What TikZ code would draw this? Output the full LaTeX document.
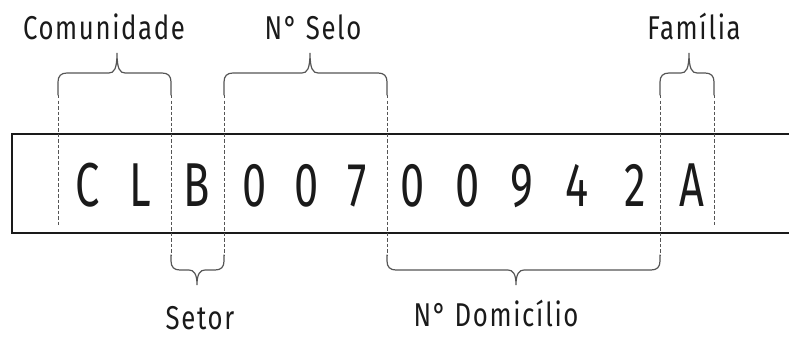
\documentclass[tikz,border=0pt]{standalone}
\usepackage{fontspec}
\setmainfont{Fira Sans}
\newfontfamily\codefont{Fira Sans}[FakeStretch=0.7]
\newfontfamily\labelfont{Fira Sans}[FakeStretch=0.78,LetterSpace=5]

\definecolor{ink}{HTML}{1A1A1A}
\definecolor{guide}{HTML}{555555}

\tikzset{
  codechar/.style={anchor=base,inner sep=0pt,text=ink,font=\codefont\fontsize{62}{62}\selectfont},
  partlabel/.style={anchor=base,inner sep=0pt,text=ink,font=\labelfont\fontsize{33}{33}\selectfont},
  guideline/.style={guide,line width=1pt,dash pattern=on 3.5pt off 2pt},
  brc/.style={guide,line width=1.2pt,line cap=round}
}

\begin{document}
\begin{tikzpicture}[x=1pt,y=1pt]
\useasboundingbox (0,0) rectangle (789,338);

% code strip, open on the right
\draw[ink,line width=2pt] (790,204) -- (12,204) -- (12,105) -- (790,105);

% the twelve characters of the code
\foreach \x/\ch [count=\i] in {88/C,140/L,197/B,255/0,307/0,357/7,413/0,468/0,522/9,577/4,635/2,692/A}{
  \node[codechar] (c\i) at (\x,132) {\ch};
}

% guides between the groups
\foreach \x/\ya/\yb in {58/243/113,171/243/83,224/243/83,387/243/83,660/243/83,714/243/113}{
  \draw[guideline] (\x,\ya) -- (\x,\yb);
}

% braces: left/right/tip x, start y, bar y, tip y, direction
\foreach \xa/\xb/\xt/\yb/\yr/\yt/\s in {58/171/117/243/265/285/1,224/387/310/243/265/285/1,660/714/689/243/265/285/1,
                                        171/224/197/83/68/53/-1,387/660/516/83/68/53/-1}{
  \draw[brc] (\xa,\yb) -- (\xa,{\yr-\s*9})
    .. controls (\xa,{\yr-\s*3}) and ({\xa+3},\yr) .. ({\xa+9},\yr)
    -- ({\xt-8},\yr) .. controls ({\xt-3},\yr) and (\xt,{\yr+\s*4}) .. (\xt,\yt)
    .. controls (\xt,{\yr+\s*4}) and ({\xt+3},\yr) .. ({\xt+8},\yr)
    -- ({\xb-9},\yr) .. controls ({\xb-3},\yr) and (\xb,{\yr-\s*3}) .. (\xb,{\yr-\s*9})
    -- (\xb,\yb);
}

% group names
\node[partlabel] (comunidade) at (104,298) {Comunidade};
\node[partlabel] (selo) at (313,298) {N° Selo};
\node[partlabel] (familia) at (694,298) {Família};
\node[partlabel] (setor) at (200,9) {Setor};
\node[partlabel] (domicilio) at (496,12) {N° Domicílio};
\end{tikzpicture}
\end{document}
